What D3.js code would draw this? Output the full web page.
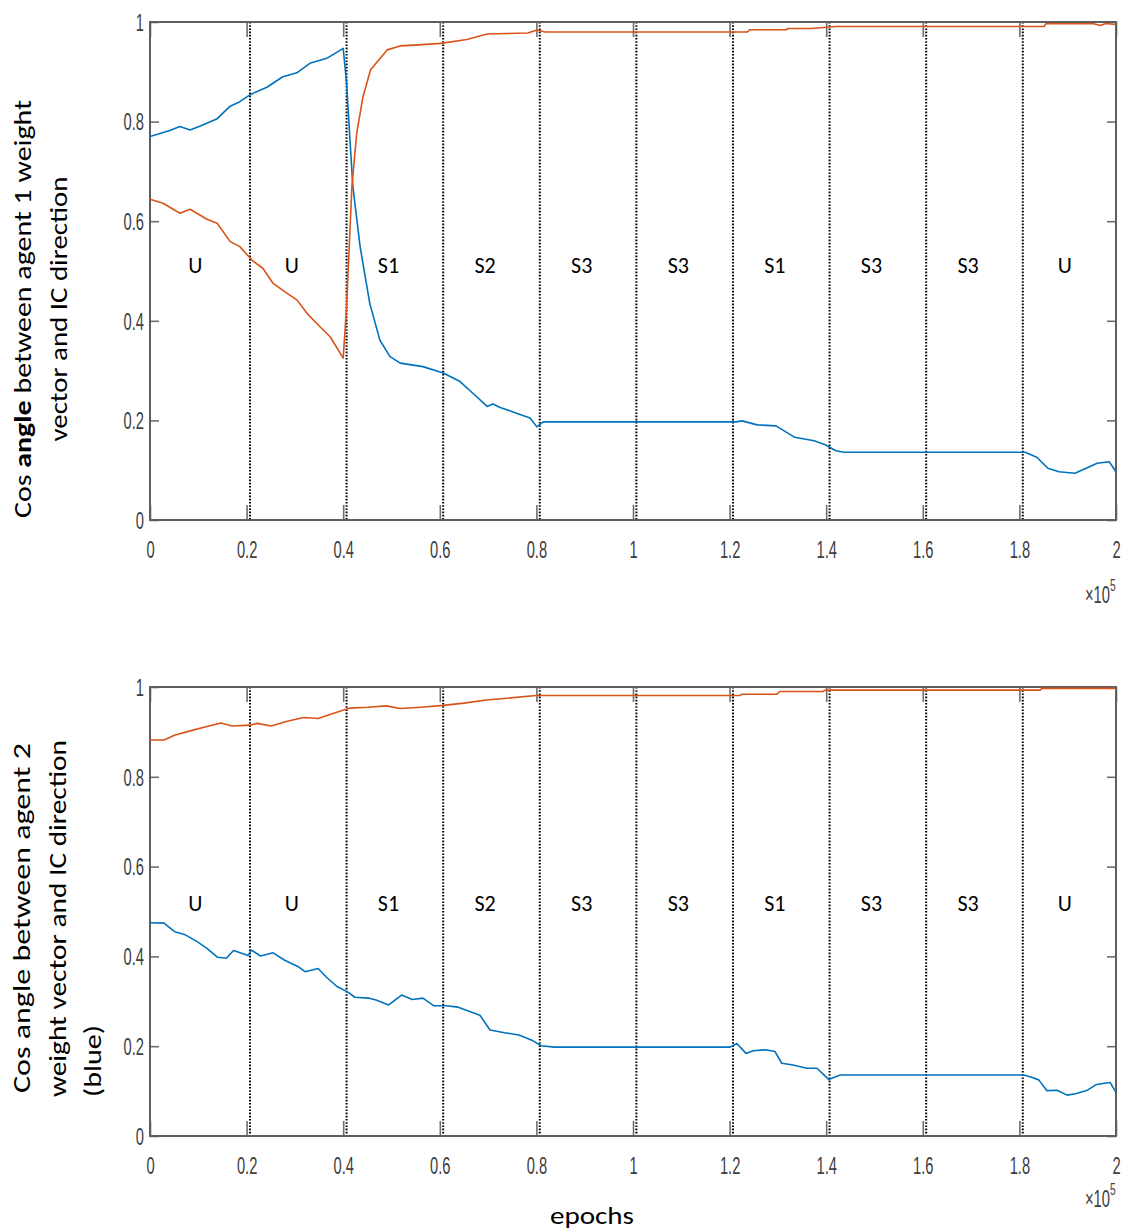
<!DOCTYPE html>
<html><head><meta charset="utf-8">
<script src="https://cdn.jsdelivr.net/npm/d3@7"></script>
<style>
body{margin:0;background:#fff;}
svg{display:block;}
</style></head>
<body>
<svg id="chart" width="1124" height="1232"></svg>
<script>
// ---------- DATA ----------
const xTickValues = [0,20000,40000,60000,80000,100000,120000,140000,160000,180000,200000];
const xTickLabels = ["0","0.2","0.4","0.6","0.8","1","1.2","1.4","1.6","1.8","2"];
const yTickValues = [0,0.2,0.4,0.6,0.8,1];
const yTickLabels = ["0","0.2","0.4","0.6","0.8","1"];
const phaseBoundaries = [20700,40700,60700,80700,100700,120700,140700,160700,180700];
const phaseLabels = ["U","U","S1","S2","S3","S3","S1","S3","S3","U"];

// Panel 1 (agent 1) blue
const a1BlueEpochs = [0,4100,6200,8300,10400,13800,16600,18600,20900,24200,27500,30400,33100,36600,40000,40700,41400,42000,43500,45500,47600,49700,51800,56500,60700,64200,66900,69800,71000,72500,76000,78700,80100,81400,121300,122600,125700,129600,133500,137500,139800,142000,143700,181200,183600,185900,188200,191500,193800,196100,198600,200000];
const a1BlueValues = [0.770,0.782,0.790,0.783,0.791,0.805,0.831,0.840,0.855,0.869,0.890,0.898,0.917,0.927,0.947,0.877,0.763,0.670,0.549,0.435,0.361,0.328,0.315,0.308,0.295,0.278,0.254,0.228,0.233,0.226,0.214,0.205,0.187,0.197,0.197,0.199,0.191,0.189,0.166,0.159,0.151,0.139,0.136,0.136,0.126,0.104,0.097,0.094,0.104,0.114,0.117,0.097];
// Panel 1 (agent 1) orange
const a1OrangeEpochs = [0,2700,6200,8300,11800,13900,16600,18600,21100,23400,25500,28400,30400,32500,35200,37300,40000,40700,41400,41800,42800,44100,45700,46200,49100,51800,55600,60200,65600,69800,73900,78200,80200,81800,123700,124200,131700,132100,136900,142000,185100,185500,195400,196700,197900,200000];
const a1OrangeValues = [0.644,0.636,0.616,0.624,0.604,0.596,0.559,0.549,0.522,0.505,0.475,0.455,0.442,0.415,0.388,0.368,0.325,0.428,0.582,0.669,0.777,0.850,0.905,0.910,0.944,0.952,0.954,0.957,0.965,0.976,0.977,0.978,0.984,0.980,0.980,0.9845,0.9845,0.987,0.987,0.991,0.991,0.9966,0.9966,0.993,0.997,0.995];

// Panel 2 (agent 2) blue
const a2BlueEpochs = [0,2900,5100,7300,9600,11800,14000,15800,17300,20300,21000,22900,25500,27800,30700,32100,34800,36600,38700,40900,42400,45400,46800,49400,52100,54300,56500,58800,61300,63800,68300,70400,73400,76400,79300,81000,83700,120100,121500,123400,124900,127400,129400,130800,133100,136000,138100,140500,142900,180900,182200,184000,185700,187800,189900,191600,194100,195800,197200,198800,200000];
const a2BlueValues = [0.475,0.474,0.455,0.448,0.434,0.418,0.398,0.396,0.413,0.402,0.414,0.401,0.408,0.392,0.377,0.366,0.373,0.353,0.333,0.321,0.309,0.307,0.303,0.292,0.314,0.304,0.307,0.290,0.290,0.287,0.269,0.236,0.230,0.225,0.212,0.201,0.198,0.198,0.206,0.184,0.190,0.192,0.188,0.162,0.158,0.151,0.151,0.126,0.136,0.136,0.132,0.125,0.101,0.102,0.091,0.094,0.102,0.114,0.117,0.119,0.097];
// Panel 2 (agent 2) orange
const a2OrangeEpochs = [0,2900,5200,8900,11800,14700,17000,20700,22200,25100,28200,31800,34800,38500,41400,45100,48900,51800,56100,60700,65000,69600,73900,79900,122200,122500,129800,130400,139300,139800,184300,184700,200000];
const a2OrangeValues = [0.882,0.882,0.893,0.904,0.912,0.920,0.913,0.915,0.919,0.913,0.923,0.932,0.930,0.943,0.953,0.955,0.958,0.952,0.955,0.959,0.964,0.971,0.975,0.981,0.981,0.984,0.984,0.990,0.990,0.993,0.993,0.997,0.997];

// ---------- DRAW ----------
const svg = d3.select("#chart");
svg.append("rect").attr("width",1124).attr("height",1232).attr("fill","#fff");

const BLUE = "#0072BD", ORANGE = "#D95319";
const tickFont = "'Liberation Sans', Arial, Helvetica, sans-serif";
const textFont = "Carlito, Lato, 'Open Sans', sans-serif";

const x = d3.scaleLinear().domain([0,200000]).range([150,1116]);

const panels = [
  {top:22, bottom:520, expBaseline:603, labelBaseline:273,
   series:[{ex:a1BlueEpochs, v:a1BlueValues, c:BLUE},{ex:a1OrangeEpochs, v:a1OrangeValues, c:ORANGE}]},
  {top:687, bottom:1136, expBaseline:1207, labelBaseline:911,
   series:[{ex:a2OrangeEpochs, v:a2OrangeValues, c:ORANGE},{ex:a2BlueEpochs, v:a2BlueValues, c:BLUE}]}
];

panels.forEach((p,pi)=>{
  const y = d3.scaleLinear().domain([0,1]).range([p.bottom,p.top]);
  const g = svg.append("g");

  // dotted phase lines
  g.selectAll("line.phase").data(phaseBoundaries).join("line")
    .attr("class","phase")
    .attr("x1",d=>x(d)).attr("x2",d=>x(d))
    .attr("y1",p.top).attr("y2",p.bottom)
    .attr("stroke","#000").attr("stroke-width",2)
    .attr("stroke-dasharray","1.6,1.6");

  // axes
  const styleAxis = (sel)=>{
    sel.select(".domain").remove();
    sel.selectAll(".tick line").attr("stroke","#6e6e6e").attr("stroke-width",1.6);
  };
  const xb = g.append("g").attr("transform",`translate(0,${p.bottom})`)
    .call(d3.axisBottom(x).tickValues(xTickValues).tickSizeInner(-15).tickSizeOuter(0)
      .tickFormat((d,i)=>xTickLabels[i]));
  styleAxis(xb);
  xb.selectAll(".tick text")
    .attr("y",null).attr("dy",null)
    .attr("transform","translate(0,38) scale(0.64,1)")
    .attr("font-family",tickFont).attr("font-size",23).attr("fill","#404040");

  const xt = g.append("g").attr("transform",`translate(0,${p.top})`)
    .call(d3.axisTop(x).tickValues(xTickValues).tickSizeInner(-15).tickSizeOuter(0).tickFormat(""));
  styleAxis(xt);

  const yl = g.append("g").attr("transform","translate(150,0)")
    .call(d3.axisLeft(y).tickValues(yTickValues).tickSizeInner(-9).tickSizeOuter(0)
      .tickFormat((d,i)=>yTickLabels[i]));
  styleAxis(yl);
  yl.selectAll(".tick text")
    .attr("x",null).attr("dy","0.36em")
    .attr("transform","translate(-6,0) scale(0.64,1)")
    .attr("text-anchor","end")
    .attr("font-family",tickFont).attr("font-size",23).attr("fill","#404040");

  const yr = g.append("g").attr("transform","translate(1116,0)")
    .call(d3.axisRight(y).tickValues(yTickValues).tickSizeInner(-9).tickSizeOuter(0).tickFormat(""));
  styleAxis(yr);

  // box
  g.append("rect").attr("x",150).attr("y",p.top).attr("width",966).attr("height",p.bottom-p.top)
    .attr("fill","none").attr("stroke","#5e5e5e").attr("stroke-width",2);

  // series
  p.series.forEach(s=>{
    const pts = s.ex.map((e,i)=>[e,s.v[i]]);
    g.append("path").datum(pts)
      .attr("d", d3.line().x(d=>x(d[0])).y(d=>y(d[1])))
      .attr("fill","none").attr("stroke",s.c).attr("stroke-width",1.6)
      .attr("stroke-linejoin","round");
  });

  // phase labels
  g.selectAll("text.phase").data(phaseLabels).join("text")
    .attr("class","phase")
    .attr("x",(d,i)=>x(i*20000+10000)-3)
    .attr("y",p.labelBaseline)
    .attr("text-anchor","middle")
    .attr("font-family",textFont).attr("font-size",22).attr("fill","#000")
    .text(d=>d);

  // x10^5
  const ex = g.append("text")
    .attr("transform",`translate(1085,${p.expBaseline}) scale(0.64,1)`)
    .attr("font-family",tickFont).attr("font-size",23).attr("fill","#404040");
  ex.append("tspan").text("×10");
  ex.append("tspan").attr("dy",-12).attr("font-size",16).text("5");
});

// y-axis titles
const t1 = svg.append("g").attr("font-family",textFont).attr("font-size",25).attr("fill","#000");
const l1 = t1.append("text").attr("transform","translate(31,309) rotate(-90)").attr("text-anchor","middle")
  .attr("textLength",418).attr("lengthAdjust","spacingAndGlyphs");
l1.append("tspan").text("Cos ");
l1.append("tspan").attr("font-weight","bold").text("angle");
l1.append("tspan").text(" between agent 1 weight");
t1.append("text").attr("transform","translate(67,309) rotate(-90)").attr("text-anchor","middle")
  .attr("textLength",265).attr("lengthAdjust","spacingAndGlyphs")
  .text("vector and IC direction");

const t2 = svg.append("g").attr("font-family",textFont).attr("font-size",25).attr("fill","#000");
t2.append("text").attr("transform","translate(30,1093) rotate(-90)").attr("text-anchor","start")
  .attr("textLength",350).attr("lengthAdjust","spacingAndGlyphs")
  .text("Cos angle between agent 2");
t2.append("text").attr("transform","translate(66,1097) rotate(-90)").attr("text-anchor","start")
  .attr("textLength",357).attr("lengthAdjust","spacingAndGlyphs")
  .text("weight vector and IC direction");
t2.append("text").attr("transform","translate(101,1097) rotate(-90)").attr("text-anchor","start")
  .attr("textLength",72).attr("lengthAdjust","spacingAndGlyphs")
  .text("(blue)");

svg.append("text").attr("x",592).attr("y",1224).attr("text-anchor","middle")
  .attr("font-family",textFont).attr("font-size",25).attr("fill","#000")
  .attr("textLength",84).attr("lengthAdjust","spacingAndGlyphs")
  .text("epochs");
</script>
</body></html>
